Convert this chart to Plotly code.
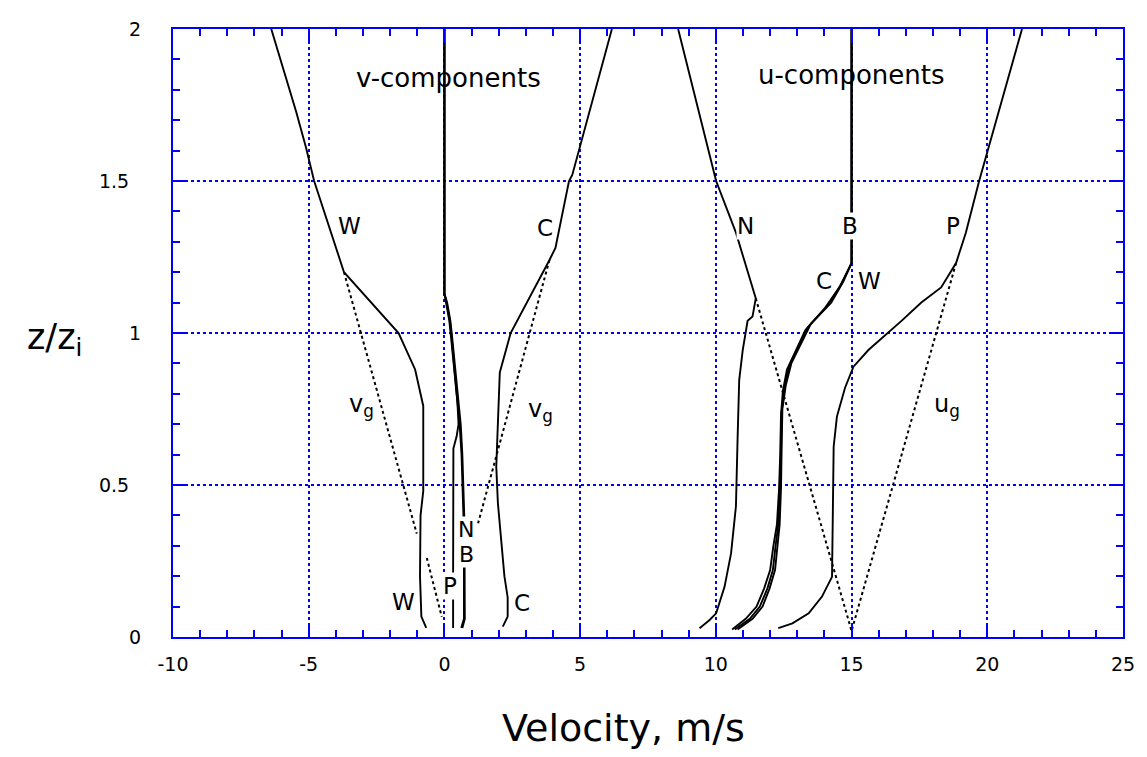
import plotly.graph_objects as go

# ---- v-component profiles (velocity m/s, height z/zi) ----
vW_x = [-6.38, -5.47, -5.10, -4.80, -3.70, -2.70, -1.69, -1.08, -0.78, -0.78, -0.88, -0.90, -0.85, -0.67]
vW_z = [2.00, 1.73, 1.61, 1.50, 1.20, 1.10, 1.00, 0.88, 0.76, 0.48, 0.40, 0.20, 0.067, 0.03]

vC_x = [6.17, 4.71, 4.59, 4.09, 3.87, 2.44, 2.04, 1.97, 1.91, 1.97, 2.09, 2.21, 2.33, 2.33, 2.15]
vC_z = [2.00, 1.52, 1.50, 1.28, 1.24, 1.00, 0.87, 0.67, 0.56, 0.44, 0.33, 0.20, 0.13, 0.067, 0.034]

vB_x = [0.0, 0.0, 0.06, 0.18, 0.24, 0.36, 0.47, 0.56, 0.63, 0.67, 0.70, 0.72, 0.73, 0.72, 0.62]
vB_z = [2.0, 1.13, 1.10, 1.04, 0.99, 0.88, 0.77, 0.70, 0.60, 0.50, 0.40, 0.30, 0.20, 0.06, 0.03]

vN_x = [0.0, 0.0, 0.10, 0.22, 0.28, 0.41, 0.52, 0.60, 0.66, 0.70, 0.73, 0.74, 0.75, 0.75, 0.66]
vN_z = [2.0, 1.13, 1.10, 1.04, 0.99, 0.88, 0.77, 0.70, 0.60, 0.50, 0.40, 0.30, 0.20, 0.06, 0.03]

vP_x = [0.0, 0.0, 0.08, 0.20, 0.26, 0.38, 0.48, 0.52, 0.45, 0.33, 0.32, 0.32, 0.32]
vP_z = [2.0, 1.13, 1.10, 1.04, 0.99, 0.88, 0.77, 0.70, 0.66, 0.62, 0.50, 0.20, 0.03]

# geostrophic v for the W and C cases
vgW_x = [-3.70, -1.02, None, -0.65, -0.10]
vgW_z = [1.20, 0.34, None, 0.26, 0.067]
vgC_x = [3.87, 1.24]
vgC_z = [1.24, 0.374]

# ---- u-component profiles ----
uN_x = [8.61, 10.01, 10.74, 11.47, 11.35, 11.17, 10.99, 10.86, 10.80, 10.74, 10.56, 10.32, 10.01, 9.77, 9.40]
uN_z = [2.00, 1.50, 1.33, 1.114, 1.054, 1.04, 0.944, 0.845, 0.65, 0.43, 0.275, 0.165, 0.078, 0.056, 0.029]

uP_x = [21.28, 20.07, 19.70, 19.21, 18.85, 18.30, 17.57, 16.84, 16.23, 15.62, 15.07, 14.76, 14.46, 14.34, 14.28, 13.91, 13.42, 12.82, 12.30]
uP_z = [2.00, 1.62, 1.50, 1.33, 1.23, 1.15, 1.10, 1.04, 0.993, 0.944, 0.889, 0.82, 0.725, 0.626, 0.198, 0.133, 0.078, 0.045, 0.029]

uB_x = [15.0, 15.0, 14.62, 14.12, 13.40, 13.05, 12.70, 12.52, 12.42, 12.40, 12.36, 12.30, 12.20, 12.10, 11.90, 11.62, 11.25, 10.70]
uB_z = [2.0, 1.23, 1.16, 1.09, 1.02, 0.955, 0.89, 0.82, 0.74, 0.60, 0.49, 0.37, 0.30, 0.22, 0.16, 0.10, 0.06, 0.025]

uC_x = [15.0, 15.0, 14.55, 14.00, 13.30, 12.95, 12.62, 12.47, 12.40, 12.37, 12.33, 12.25, 12.12, 12.00, 11.78, 11.50, 11.10, 10.60]
uC_z = [2.0, 1.23, 1.15, 1.08, 1.01, 0.945, 0.88, 0.81, 0.73, 0.60, 0.49, 0.37, 0.30, 0.22, 0.16, 0.10, 0.06, 0.025]

uW_x = [15.0, 15.0, 14.70, 14.25, 13.50, 13.15, 12.78, 12.58, 12.45, 12.42, 12.40, 12.35, 12.27, 12.18, 11.98, 11.72, 11.35, 10.80]
uW_z = [2.0, 1.23, 1.17, 1.10, 1.03, 0.965, 0.90, 0.83, 0.75, 0.60, 0.49, 0.37, 0.30, 0.22, 0.16, 0.10, 0.06, 0.025]

# geostrophic u for the N and P cases
ugN_x = [11.47, 15.0]
ugN_z = [1.114, 0.02]
ugP_x = [18.85, 15.0]
ugP_z = [1.23, 0.02]

x_ticks = [-10, -5, 0, 5, 10, 15, 20, 25]
x_ticktext = ["-10", "-5", "0", "5", "10", "15", "20", "25"]
y_ticks = [0, 0.5, 1, 1.5, 2]
y_ticktext = ["0", "0.5\u2007", "1", "1.5\u2007", "2"]

BLUE = "#0000ff"
FONT = "DejaVu Sans"

fig = go.Figure()

solid = [(vW_x, vW_z), (vC_x, vC_z), (vB_x, vB_z), (vN_x, vN_z), (vP_x, vP_z),
         (uN_x, uN_z), (uP_x, uP_z), (uB_x, uB_z), (uC_x, uC_z), (uW_x, uW_z)]
dotted = [(vgW_x, vgW_z), (vgC_x, vgC_z), (ugN_x, ugN_z), (ugP_x, ugP_z)]

for xs, zs in dotted:
    fig.add_trace(go.Scatter(x=xs, y=zs, mode="lines", connectgaps=False,
                             line=dict(color="black", width=2, dash="dot"),
                             hoverinfo="skip"))
for xs, zs in solid:
    fig.add_trace(go.Scatter(x=xs, y=zs, mode="lines",
                             line=dict(color="black", width=1.9),
                             hoverinfo="skip"))

# curve labels
labels = [
    ("v-components", 0.14, 1.839, 26, False),
    ("u-components", 15.0, 1.849, 26, False),
    ("W", -3.48, 1.352, 23, True),
    ("C", 3.72, 1.345, 23, True),
    ("v<sub>g</sub>", -3.05, 0.76, 24, False),
    ("v<sub>g</sub>", 3.55, 0.745, 24, False),
    ("W", -1.51, 0.115, 23, True),
    ("P", 0.21, 0.168, 23, True),
    ("N", 0.80, 0.352, 22, True),
    ("B", 0.80, 0.270, 22, True),
    ("C", 2.84, 0.112, 23, True),
    ("N", 11.11, 1.352, 23, True),
    ("B", 14.94, 1.352, 23, True),
    ("P", 18.75, 1.352, 23, True),
    ("C", 13.99, 1.171, 23, True),
    ("W", 15.67, 1.171, 23, True),
    ("u<sub>g</sub>", 18.5, 0.76, 24, False),
]
for text, lx, lz, size, boxed in labels:
    fig.add_annotation(x=lx, y=lz, xref="x", yref="y", text=text, showarrow=False,
                       font=dict(family=FONT, size=size, color="black"),
                       bgcolor="white" if boxed else "rgba(0,0,0,0)",
                       borderpad=0, xanchor="center", yanchor="middle")

# axis titles
fig.add_annotation(x=-0.125, y=0.49, xref="paper", yref="paper",
                   text="z/z<sub>i</sub>", showarrow=False,
                   font=dict(family=FONT, size=35, color="black"),
                   xanchor="center", yanchor="middle")
fig.add_annotation(x=0.474, y=-0.15, xref="paper", yref="paper",
                   text="Velocity, m/s", showarrow=False,
                   font=dict(family=FONT, size=38, color="black"),
                   xanchor="center", yanchor="middle")

axis_common = dict(
    showline=True, linecolor=BLUE, linewidth=2, mirror="ticks",
    ticks="inside", ticklen=14, tickwidth=1.5, tickcolor=BLUE,
    showgrid=True, gridcolor=BLUE, gridwidth=1.5, griddash="dot",
    zeroline=False, tickfont=dict(family=FONT, size=19, color="black"),
    fixedrange=True,
)

fig.update_xaxes(range=[-10, 25], tickvals=x_ticks, ticktext=x_ticktext,
                 minor=dict(dtick=1, tick0=0, ticks="inside", ticklen=7,
                            tickwidth=1.5, tickcolor=BLUE, showgrid=False),
                 ticklabelstandoff=9, **axis_common)
fig.update_yaxes(range=[0, 2], tickvals=y_ticks, ticktext=y_ticktext,
                 minor=dict(dtick=0.1, tick0=0, ticks="inside", ticklen=7,
                            tickwidth=1.5, tickcolor=BLUE, showgrid=False),
                 ticklabelstandoff=26, **axis_common)

fig.update_layout(
    width=1147, height=757,
    margin=dict(l=173, r=14, t=29, b=120),
    paper_bgcolor="white", plot_bgcolor="white",
    showlegend=False,
)

fig.write_html("out.html", config={"responsive": False})
